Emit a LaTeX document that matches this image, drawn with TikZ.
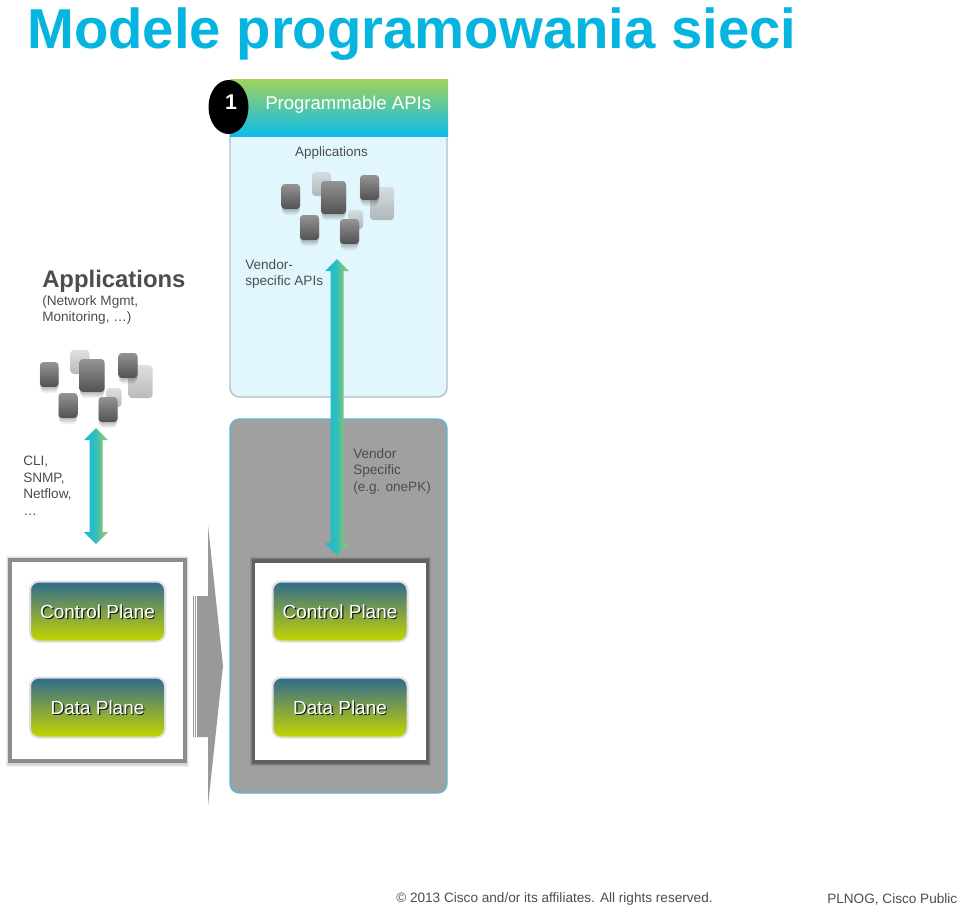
\documentclass[tikz,border=0pt]{standalone}
\usepackage{fontspec}
\setmainfont{Liberation Sans}
\usetikzlibrary{calc,shapes.geometric}
\definecolor{titleblue}{HTML}{05B5E0}
\definecolor{txt}{HTML}{4D4D4D}
\definecolor{panelblue}{HTML}{E2F7FD}
\definecolor{panelgray}{HTML}{A0A0A0}
\definecolor{panelline}{HTML}{5FB6D8}
\definecolor{paleline}{HTML}{B4BEC2}
\definecolor{hdrtop}{HTML}{A2D25C}
\definecolor{hdrbot}{HTML}{0DBCEA}
\definecolor{plnTop}{HTML}{2F6A8F}
\definecolor{plnBot}{HTML}{C8D500}
\definecolor{arrL}{HTML}{1FBCD0}
\definecolor{arrM}{HTML}{35BFB5}
\definecolor{arrR}{HTML}{7CC67C}
\pgfdeclarehorizontalshading{fatshade}{100bp}{color(0bp)=(arrL); color(36bp)=(arrL); color(50bp)=(arrM); color(64bp)=(arrR); color(100bp)=(arrR)}
\newcommand\pxu{0.75pt}
\tikzset{
  x=0.75pt,y=-0.75pt,
  lbl/.style={inner sep=0pt,anchor=north west,align=left,text=txt,font=\fontsize{10.2}{12.4}\selectfont},
  foot/.style={inner sep=0pt,anchor=west,text=txt,font=\fontsize{10.2}{13}\selectfont},
  plane/.style={draw=#1,line width=1.5pt,rounded corners=6.5pt,top color=plnTop,bottom color=plnBot,
    minimum width=135*\pxu,minimum height=60*\pxu,inner sep=0pt},
  planetxt/.style={inner sep=0pt,text=white,font=\fontsize{14.2}{16}\selectfont},
  planeshadow/.style={inner sep=0pt,text=black!90,font=\fontsize{14.2}{16}\selectfont},
}
% one application tile: x1 y1 x2 y2
\newcommand\darktile[4]{%
  \foreach \g in {0,1,2,3}{\fill[black,opacity=.06,rounded corners=3pt]
    (#1+1-\g*.5,#2+3) rectangle (#3-1+\g*.5,#4+6-\g*1.3);}
  \shade[rounded corners=2.5pt,top color=black!42,bottom color=black!68]
    (#1,#2) rectangle (#3,#4);}
\newcommand\lighttile[4]{%
  \shade[rounded corners=2.5pt,opacity=.6,top color=black!20,bottom color=black!45]
    (#1,#2) rectangle (#3,#4);}
\newcommand\cluster[2]{%
  \begin{scope}[shift={(#1,#2)}]
    \lighttile{312}{172}{331}{196}
    \lighttile{370}{187}{394}{220}
    \lighttile{348}{210}{363}{229}
    \darktile{281.5}{184}{300}{209}
    \darktile{321}{181}{346}{214}
    \darktile{360}{175}{379}{200}
    \darktile{300}{215}{319}{240}
    \darktile{340}{219}{359}{244}
  \end{scope}}
% vertical double-headed arrow between two named coordinates
\newcommand\fatarrow[2]{%
  \path[shading=fatshade] let \p1=(#1),\p2=(#2) in
    (\x1,\y1) -- ($(\x1,\y1)+(12,12)$) -- ($(\x1,\y1)+(6.5,12)$) --
    ($(\x2,\y2)+(6.5,-12)$) -- ($(\x2,\y2)+(12,-12)$) -- (\x2,\y2) --
    ($(\x2,\y2)+(-12,-12)$) -- ($(\x2,\y2)+(-6.5,-12)$) --
    ($(\x1,\y1)+(-6.5,12)$) -- ($(\x1,\y1)+(-12,12)$) -- cycle;}
\begin{document}
\begin{tikzpicture}
\useasboundingbox (0,0) rectangle (960,908);
\fill[white] (0,0) rectangle (960,908);
\node[inner sep=0pt,anchor=base west,text=titleblue,font=\bfseries\fontsize{42.2}{46}\selectfont] (title) at (27,48) {Modele programowania sieci};

% right column panels
\node[draw=paleline,line width=1pt,fill=panelblue,rounded corners=7pt,minimum width=217*\pxu,minimum height=300*\pxu,inner sep=0pt] (toppanel) at (338.5,247) {};
\node[draw=panelline,line width=1pt,fill=panelgray,rounded corners=7pt,minimum width=217*\pxu,minimum height=374*\pxu,inner sep=0pt] (graypanel) at (338.5,606) {};
\node[top color=hdrtop,bottom color=hdrbot,minimum width=218*\pxu,minimum height=57*\pxu,inner sep=0pt] (header) at (339,107.5) {};
\node[inner sep=0pt,anchor=west,text=white,font=\fontsize{13.9}{16}\selectfont] (hdrtext) at (265,105) {Programmable APIs};
\node[ellipse,fill=black,minimum width=40*\pxu,minimum height=54*\pxu,inner sep=0pt] (badge) at (228.5,107) {};
\node[inner sep=0pt,text=white,font=\bfseries\fontsize{16}{18}\selectfont] (badgetxt) at (231,102) {1};
\node[inner sep=0pt,text=txt,font=\fontsize{10.1}{12}\selectfont] (apptop) at (331.5,153) {Applications};
\cluster{0}{0}
\node[lbl] (vendorapi) at (245,259) {Vendor-\\specific APIs};
\node[lbl] (vendorspec) at (353,448) {Vendor\\Specific\\(e.g. onePK)};

% left column
\node[inner sep=0pt,anchor=west,text=txt,font=\bfseries\fontsize{17.9}{20}\selectfont] (appleft) at (42,281) {Applications};
\node[lbl] (appsub) at (42,295) {(Network Mgmt,\\Monitoring, …)};
\cluster{-241.5}{178}
\node[lbl] (cli) at (23,456) {CLI,\\SNMP,\\Netflow,\\…};

% device boxes
\foreach \i in {0,1,2}{\fill[black,opacity=.06] (8-\i,558-\i) rectangle (187+\i,765+\i);}
\node[draw=black!45,line width=3.4pt,fill=white,minimum width=175*\pxu,minimum height=201*\pxu,inner sep=0pt] (boxL) at (97.5,660.5) {};
\foreach \i in {0,1,2}{\fill[black,opacity=.1] (252-\i,559-\i) rectangle (429+\i,764+\i);}
\node[draw=black!62,line width=2.6pt,fill=white,minimum width=173.5*\pxu,minimum height=201*\pxu,inner sep=0pt] (boxR) at (340.5,661.5) {};

\node[plane=black!12!white] (ctrlL) at (97.5,611.5) {};
\node[plane=black!12!white] (dataL) at (97.5,707.5) {};
\node[plane=black!12!white] (ctrlR) at (340,611.5) {};
\node[plane=black!12!white] (dataR) at (340,707.5) {};
\foreach \n/\t in {ctrlL/Control Plane,dataL/Data Plane,ctrlR/Control Plane,dataR/Data Plane}{
  \node[planeshadow] at ($(\n)+(1.2,1.2)$) {\t};
  \node[planetxt] at (\n) {\t};
}

% transition arrow
\fill[black!40] (193,596) -- (208,596) -- (208,525) -- (223,666) -- (208,806) -- (208,737) -- (193,737) -- cycle;
\foreach \x in {194.2,195.8}{\draw[white,line width=.35pt] (\x,596) -- (\x,737);}

% connectors
\coordinate (a1top) at (96,428);
\coordinate (a1bot) at (96,544);
\coordinate (a2top) at (337,259);
\coordinate (a2bot) at (337,555);
\fatarrow{a1top}{a1bot}
\fatarrow{a2top}{a2bot}

% footer
\node[foot] (copy) at (396,899) {© 2013 Cisco and/or its affiliates. All rights reserved.};
\node[foot] (plnog) at (827,899) {PLNOG, Cisco Public};
\end{tikzpicture}
\end{document}
